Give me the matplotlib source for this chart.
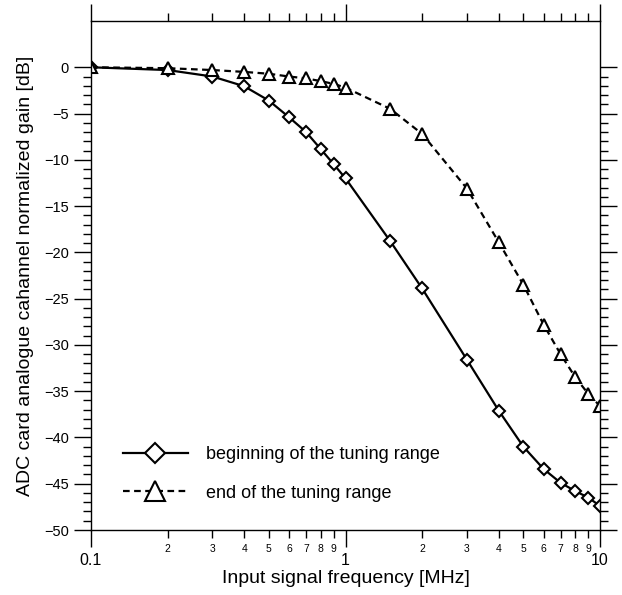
import matplotlib
matplotlib.use("Agg")
import matplotlib.pyplot as plt
from matplotlib.ticker import FixedLocator, FixedFormatter, NullFormatter

plt.rcParams['font.family'] = ['Liberation Sans', 'DejaVu Sans']

# measured frequencies [MHz]
freq = [0.1, 0.2, 0.3, 0.4, 0.5, 0.6, 0.7, 0.8, 0.9, 1.0,
        1.5, 2, 3, 4, 5, 6, 7, 8, 9, 10]

# normalized gain [dB]
gain_begin = [0.0, -0.3, -1.0, -2.05, -3.6, -5.4, -7.0, -8.85, -10.5, -12.0,
              -18.8, -23.9, -31.6, -37.1, -41.0, -43.4, -44.9, -45.8, -46.5, -47.4]
gain_end = [0.0, -0.1, -0.3, -0.5, -0.7, -1.0, -1.2, -1.5, -1.8, -2.2,
            -4.5, -7.2, -13.1, -18.9, -23.5, -27.8, -31.0, -33.5, -35.3, -36.6]

label_begin = "beginning of the tuning range"
label_end = "end of the tuning range"

x_major = [0.1, 1, 10]
x_major_labels = ["0.1", "1", "10"]
x_minor = [0.2, 0.3, 0.4, 0.5, 0.6, 0.7, 0.8, 0.9, 2, 3, 4, 5, 6, 7, 8, 9]
x_minor_labels = ["2", "3", "4", "5", "6", "7", "8", "9"] * 2
y_major = list(range(-50, 1, 5))
y_minor = [v for v in range(-50, 1) if v % 5 != 0]

fig = plt.figure(figsize=(6.22, 5.95), dpi=100)
ax = fig.add_axes([91 / 622, 1 - 530 / 595, 509 / 622, 509 / 595])

ax.plot(freq, gain_begin, color='black', lw=1.6, marker='D', ms=6.5,
        mfc='white', mec='black', mew=1.5, label=label_begin)
ax.plot(freq, gain_end, color='black', lw=1.6, ls=(0, (3, 2)), marker='^', ms=9,
        mfc='white', mec='black', mew=1.5, label=label_end)

ax.set_xscale('log')
ax.set_xlim(0.1, 10)
ax.set_ylim(-50, 5)

ax.xaxis.set_major_locator(FixedLocator(x_major))
ax.xaxis.set_major_formatter(FixedFormatter(x_major_labels))
ax.xaxis.set_minor_locator(FixedLocator(x_minor))
ax.xaxis.set_minor_formatter(FixedFormatter(x_minor_labels))
ax.yaxis.set_major_locator(FixedLocator(y_major))
ax.yaxis.set_minor_locator(FixedLocator(y_minor))
ax.yaxis.set_minor_formatter(NullFormatter())

ax.xaxis.set_ticks_position('both')
ax.yaxis.set_ticks_position('both')
ax.tick_params(axis='both', which='both', direction='out', width=1, color='black')
ax.tick_params(axis='both', which='major', length=12.5)
ax.tick_params(axis='both', which='minor', length=6)
ax.tick_params(axis='x', which='both', labeltop=False, labelbottom=True)
ax.tick_params(axis='y', which='both', labelright=False, labelleft=True)
ax.tick_params(axis='x', which='major', labelsize=11.5, pad=4)
ax.tick_params(axis='x', which='minor', labelsize=7.5, pad=4)
ax.tick_params(axis='y', which='major', labelsize=10.5, pad=3.5)

for sp in ax.spines.values():
    sp.set_linewidth(1)

ax.set_xlabel("Input signal frequency [MHz]", fontsize=14)
ax.set_ylabel("ADC card analogue cahannel normalized gain [dB]", fontsize=14)
ax.xaxis.set_label_coords(0.5, -0.078)
ax.yaxis.set_label_coords(-0.112, 0.5)

ax.legend(loc='lower left', bbox_to_anchor=(0.03, 0.024), frameon=False,
          fontsize=13, handlelength=3.6, handletextpad=1.0, labelspacing=1.2,
          markerscale=1.6)

fig.savefig("out.png", dpi=100)
